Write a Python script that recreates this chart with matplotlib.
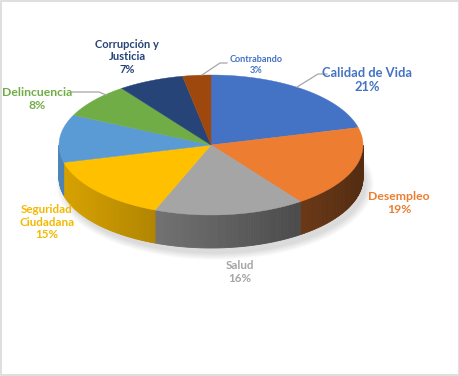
# 3D-style pie chart: problemas percibidos (Excel look)
import numpy as np
import matplotlib.pyplot as plt
from matplotlib.patches import Polygon, Ellipse, Rectangle

categories = ["Calidad de Vida", "Desempleo", "Salud", "Seguridad\nCiudadana",
              "", "Delincuencia", "Corrupción y\nJusticia", "Contrabando"]
values = [21, 19, 16, 15, 11, 8, 7, 3]
colors = ["#4472C4", "#ED7D31", "#A5A5A5", "#FFC000",
          "#5B9BD5", "#70AD47", "#264478", "#9E480E"]
label_colors = ["#4472C4", "#ED7D31", "#A5A5A5", "#F5B800",
                None, "#70AD47", "#264478", "#4472C4"]

# layout (pixels, y downward)
cx, cy, a, b, depth = 211, 145, 152, 70, 33
label_pos = [(367, 80), (399, 203), (240, 272), (47, 222),
             None, (37, 99), (127, 57), (256, 65)]
label_size = [9.3, 8.8, 8.4, 8.4, None, 8.8, 8.0, 6.6]
leaders = [[(297, 87), (318, 74), (327, 74)],
           [(202, 75), (220, 63), (227, 63)],
           [(106, 95), (99, 92), (72, 92)]]

plt.rcParams['font.family'] = ['Lato', 'DejaVu Sans']

fig = plt.figure(figsize=(4.6, 3.76), dpi=100)
ax = fig.add_axes([0, 0, 1, 1])
ax.set_xlim(0, 460)
ax.set_ylim(376, 0)
ax.axis('off')


def pt(phi_deg, dy=0.0):
    p = np.radians(phi_deg)
    return cx + a * np.sin(p), cy - b * np.cos(p) + dy


# soft shadow
for k in range(12):
    ax.add_patch(Ellipse((cx + 4, cy + depth + 6), 2 * a + 14 - k * 1.5,
                         2 * b + 12 - k * 1.2, color="black", alpha=0.012,
                         lw=0, zorder=1))

angles = np.concatenate([[0], np.cumsum(values) / sum(values) * 360])

# side walls (front half only)
for i, col in enumerate(colors):
    lo, hi = max(angles[i], 90), min(angles[i + 1], 270)
    if hi <= lo:
        continue
    base = np.array(plt.matplotlib.colors.to_rgb(col))
    steps = np.linspace(lo, hi, int(hi - lo) + 2)
    for p0, p1 in zip(steps[:-1], steps[1:]):
        f = 0.6 - 0.25 * np.sin(np.radians((p0 + p1) / 2))
        c = np.clip(base * f, 0, 1)
        poly = [pt(p0), pt(p1), pt(p1, depth), pt(p0, depth)]
        ax.add_patch(Polygon(poly, closed=True, fc=c, ec=c, lw=0.6, zorder=2))

# top face
for i, col in enumerate(colors):
    arc = [pt(p) for p in np.linspace(angles[i], angles[i + 1], 80)]
    ax.add_patch(Polygon([(cx, cy)] + arc, closed=True, fc=col, ec=col,
                         lw=0.3, zorder=3))

# leader lines
for line in leaders:
    xs, ys = zip(*line)
    ax.plot(xs, ys, color="#A6A6A6", lw=0.9, zorder=4)

# labels
for i, name in enumerate(categories):
    if label_pos[i] is None:
        continue
    x, y = label_pos[i]
    ax.text(x, y, f"{name}\n{values[i]}%", ha="center", va="center",
            color=label_colors[i], fontsize=label_size[i], fontweight="bold",
            linespacing=1.2, zorder=5)

fig.patches.append(Rectangle((0.002, 0.003), 0.995, 0.994, transform=fig.transFigure,
                             fill=False, ec="#D9D9D9", lw=1.2))

fig.savefig("out.png", dpi=100)
